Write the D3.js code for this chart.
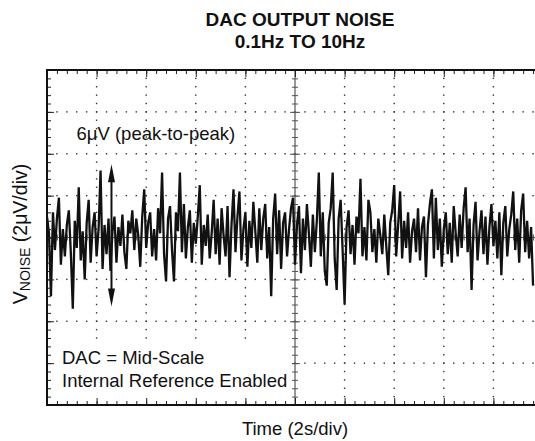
<!DOCTYPE html>
<html><head><meta charset="utf-8">
<script src="https://cdn.jsdelivr.net/npm/d3@7"></script>
<style>
html,body{margin:0;padding:0;background:#fff;}
text{font-family:"Liberation Sans",Arial,Helvetica,sans-serif;fill:#111;}
</style></head>
<body>
<svg id="chart" width="535" height="441"></svg>
<script>
// ---- data ----
const titleLines = ["DAC OUTPUT NOISE", "0.1Hz TO 10Hz"];
const xLabel = "Time (2s/div)";
const yLabelMain = "V";
const yLabelSub = "NOISE";
const yLabelRest = " (2\u03BCV/div)";
const annoPeak = "6\u03BCV (peak-to-peak)";
const annoNotes = ["DAC = Mid-Scale", "Internal Reference Enabled"];
const timeDomain = [0, 20];        // seconds, 10 div x 2 s/div
const voltDomain = [-8, 8];        // µV, 8 div x 2 µV/div
const majorStepX = 2, majorStepY = 2;
const sampleStep = 0.08;           // s per sample
const arrowSpan = [3.5, -3.3];     // µV, peak-to-peak arrow ends
const arrowTime = 2.6;             // s
// noise samples in µV
const noise = [
 1.0, 0.2,-2.8, 1.2,-0.6, 0.9, 1.9,-1.3, 0.4,-0.9,
 0.6, 1.3,-0.7,-3.4, 0.8,-0.5, 2.4,-1.1, 0.3,-2.0,
 0.7, 1.8,-1.2, 0.5, 1.2,-0.9, 0.4, 3.2,-1.5, 0.6,
-0.8, 0.9,-1.6, 0.3, 1.0,-1.2, 0.5,-0.4, 1.1,-0.7,
-1.5, 0.8, 0.2, 1.3,-0.6, 0.9, 0.1,-1.4, 1.0, 2.3,
-0.5, 0.7, 1.2,-0.9, 0.4,-1.1, 1.4, 0.2, 3.1,-0.8,
-2.1, 0.9, 1.5,-0.6,-2.1, 1.2, 0.3, 3.1,-0.7, 1.6,
-1.0, 0.5, 1.3,-1.2, 0.7,-0.3, 1.0, 2.5,-1.3, 0.6,
-0.4, 1.1,-1.0, 0.2, 1.8,-0.8, 0.9,-1.3, 1.4, 0.1,
-0.9, 1.5,-1.9, 0.6, 2.3,-0.7, 1.0, 2.2,-1.1, 0.4,
 1.2,-1.4, 0.8,-0.5, 1.7, 0.3,-1.2, 1.4,-0.6, 0.9,
 1.6,-1.0, 0.5,-2.8, 0.9, 2.1,-0.8, 1.3,-1.5, 0.7,
 1.2,-0.9, 0.4, 1.4, 1.9,-1.3, 0.6, 1.5,-1.7, 0.9,
-0.6, 1.6, 0.2,-1.4, 1.1,-0.7, 0.8, 3.1,-0.9, 1.2,
-1.6,-2.3, 0.7, 1.4, 3.1,-1.0,-2.5, 0.9, 1.8,-0.6,
-3.2, 0.5, 1.3,-0.8, 0.6,-1.3, 1.0, 0.2, 2.8,-0.9,
 0.5,-1.1, 1.8, 1.2,-0.7, 0.4,-1.2, 0.9, 0.1,-0.8,
 1.1,-0.4,-1.8, 0.7, 1.3, 2.5,-0.9, 0.6, 2.2,-1.0,
 0.8,-0.5, 1.2,-1.2, 0.3, 0.9,-0.7, 1.4,-1.1, 0.5,
 1.0,-1.9, 0.6, 1.6, 2.3,-1.0, 1.9,-0.6, 0.9,-1.4,
 0.4, 1.2,-0.8, 0.7,-1.2, 1.5, 0.2,-0.9, 1.1,-0.5,
 1.4, 2.4,-0.7, 0.9,-2.5, 0.6, 1.7,-1.1, 0.3, 1.3,
-0.8, 1.0,-1.3, 0.5, 1.6,-0.4, 0.8,-1.0, 1.2,-1.8,
 0.7, 1.5,-0.9, 0.4, 1.1, 2.2,-0.6, 0.9,-1.2, 1.3,
 2.1,-0.7, 0.8,-1.0, 0.5,-2.3
];

// ---- layout ----
const svg = d3.select("#chart");
const L = 47, T = 70, B = 405, R = 543;
const x = d3.scaleLinear().domain(timeDomain).range([L, R]);
const y = d3.scaleLinear().domain(voltDomain).range([B, T]);

const majorX = d3.range(timeDomain[0], timeDomain[1] + 1e-9, majorStepX);
const majorY = d3.range(voltDomain[0], voltDomain[1] + 1e-9, majorStepY);
const minorX = d3.range(timeDomain[0], timeDomain[1] + 1e-9, majorStepX / 5);
const minorY = d3.range(voltDomain[0], voltDomain[1] + 1e-9, majorStepY / 5);
const midX = (timeDomain[0] + timeDomain[1]) / 2;
const midY = (voltDomain[0] + voltDomain[1]) / 2;

// title
svg.selectAll("text.title").data(titleLines).join("text")
  .attr("class", "title")
  .attr("x", 300).attr("y", (d, i) => 25.5 + i * 22)
  .attr("text-anchor", "middle")
  .style("font-size", "19px").style("font-weight", "bold")
  .text(d => d);

// dotted grid
const gGrid = svg.append("g").attr("fill", "#333");
const gridXs = majorX.filter(v => v !== midX && v !== timeDomain[0] && v !== timeDomain[1]);
const gridYs = majorY.filter(v => v !== midY && v !== voltDomain[0] && v !== voltDomain[1]);
const dotsV = [];
gridXs.forEach(gx => minorY.forEach(my => dotsV.push([gx, my])));
const dotsH = [];
gridYs.forEach(gy => minorX.forEach(mx => dotsH.push([mx, gy])));
gGrid.selectAll("rect.dv").data(dotsV).join("rect").attr("class", "dv")
  .attr("x", d => x(d[0]) - 0.7).attr("y", d => y(d[1]) - 0.7)
  .attr("width", 1.4).attr("height", 1.4);
gGrid.selectAll("rect.dh").data(dotsH).join("rect").attr("class", "dh")
  .attr("x", d => x(d[0]) - 0.7).attr("y", d => y(d[1]) - 0.7)
  .attr("width", 1.4).attr("height", 1.4);

// center axes (solid, with crossing ticks)
const gC = svg.append("g");
gC.append("line").attr("x1", L).attr("x2", R).attr("y1", y(midY)).attr("y2", y(midY))
  .attr("stroke", "#555").attr("stroke-width", 1.2);
gC.append("line").attr("x1", x(midX)).attr("x2", x(midX)).attr("y1", T).attr("y2", B)
  .attr("stroke", "#555").attr("stroke-width", 1.2);
function tickAxis(axis, tx, ty) {
  const g = svg.append("g").attr("transform", `translate(${tx},${ty})`).call(axis);
  g.select(".domain").remove();
  g.selectAll(".tick line").attr("stroke", "#222").attr("stroke-width", 1);
  return g;
}
tickAxis(d3.axisBottom(x).tickValues(minorX).tickSize(6).tickFormat(""), 0, y(midY) - 3)
  .selectAll(".tick line").attr("stroke", "#555");
tickAxis(d3.axisBottom(x).tickValues(majorX).tickSize(10).tickFormat(""), 0, y(midY) - 5)
  .selectAll(".tick line").attr("stroke", "#555");
tickAxis(d3.axisRight(y).tickValues(minorY).tickSize(6).tickFormat(""), x(midX) - 3, 0)
  .selectAll(".tick line").attr("stroke", "#555");
tickAxis(d3.axisRight(y).tickValues(majorY).tickSize(10).tickFormat(""), x(midX) - 5, 0)
  .selectAll(".tick line").attr("stroke", "#555");

// noise trace
svg.append("clipPath").attr("id", "clip").append("rect")
  .attr("x", L).attr("y", T).attr("width", R - L).attr("height", B - T);
const line = d3.line().x((d, i) => x(i * sampleStep)).y(d => y(d));
svg.append("path").datum(noise).attr("clip-path", "url(#clip)")
  .attr("d", line).attr("fill", "none")
  .attr("stroke", "#111").attr("stroke-width", 2.3).attr("stroke-linejoin", "miter")
  .attr("stroke-miterlimit", 2);

// white box behind the notes
svg.append("rect").attr("x", 55).attr("y", 343).attr("width", 237).attr("height", 58)
  .attr("fill", "#fff");

// frame ticks
tickAxis(d3.axisBottom(x).tickValues(minorX).tickSize(4).tickFormat(""), 0, T);
tickAxis(d3.axisBottom(x).tickValues(majorX).tickSize(7).tickFormat(""), 0, T);
tickAxis(d3.axisTop(x).tickValues(minorX).tickSize(4).tickFormat(""), 0, B);
tickAxis(d3.axisTop(x).tickValues(majorX).tickSize(7).tickFormat(""), 0, B);
tickAxis(d3.axisRight(y).tickValues(minorY).tickSize(4).tickFormat(""), L, 0);
tickAxis(d3.axisRight(y).tickValues(majorY).tickSize(7).tickFormat(""), L, 0);

// frame
svg.append("rect").attr("x", L).attr("y", T).attr("width", R - L).attr("height", B - T)
  .attr("fill", "none").attr("stroke", "#111").attr("stroke-width", 2);

// peak-to-peak arrow
const ax = x(arrowTime);
const yTop = y(arrowSpan[0]), yBot = y(arrowSpan[1]);
svg.append("line").attr("x1", ax).attr("x2", ax).attr("y1", yTop + 12).attr("y2", yBot - 12)
  .attr("stroke", "#111").attr("stroke-width", 2);
svg.append("path").attr("d", `M${ax},${yTop} L${ax - 3.5},${yTop + 18} L${ax + 3.5},${yTop + 18} Z`).attr("fill", "#111");
svg.append("path").attr("d", `M${ax},${yBot} L${ax - 3.5},${yBot - 18} L${ax + 3.5},${yBot - 18} Z`).attr("fill", "#111");

// annotations
svg.append("text").attr("x", 76.5).attr("y", 140).style("font-size", "18.5px").text(annoPeak);
svg.selectAll("text.note").data(annoNotes).join("text").attr("class", "note")
  .attr("x", 62).attr("y", (d, i) => 364 + i * 23).style("font-size", "18.5px")
  .text(d => d);

// axis labels
svg.append("text").attr("x", x(midX)).attr("y", 435).attr("text-anchor", "middle")
  .style("font-size", "18.5px").text(xLabel);
const yl = svg.append("text").attr("transform", "translate(27,234) rotate(-90)")
  .attr("text-anchor", "middle").style("font-size", "19.5px");
yl.append("tspan").text(yLabelMain);
yl.append("tspan").attr("dy", 3).style("font-size", "14px").text(yLabelSub);
yl.append("tspan").attr("dy", -3).text(yLabelRest);
</script>
</body></html>
